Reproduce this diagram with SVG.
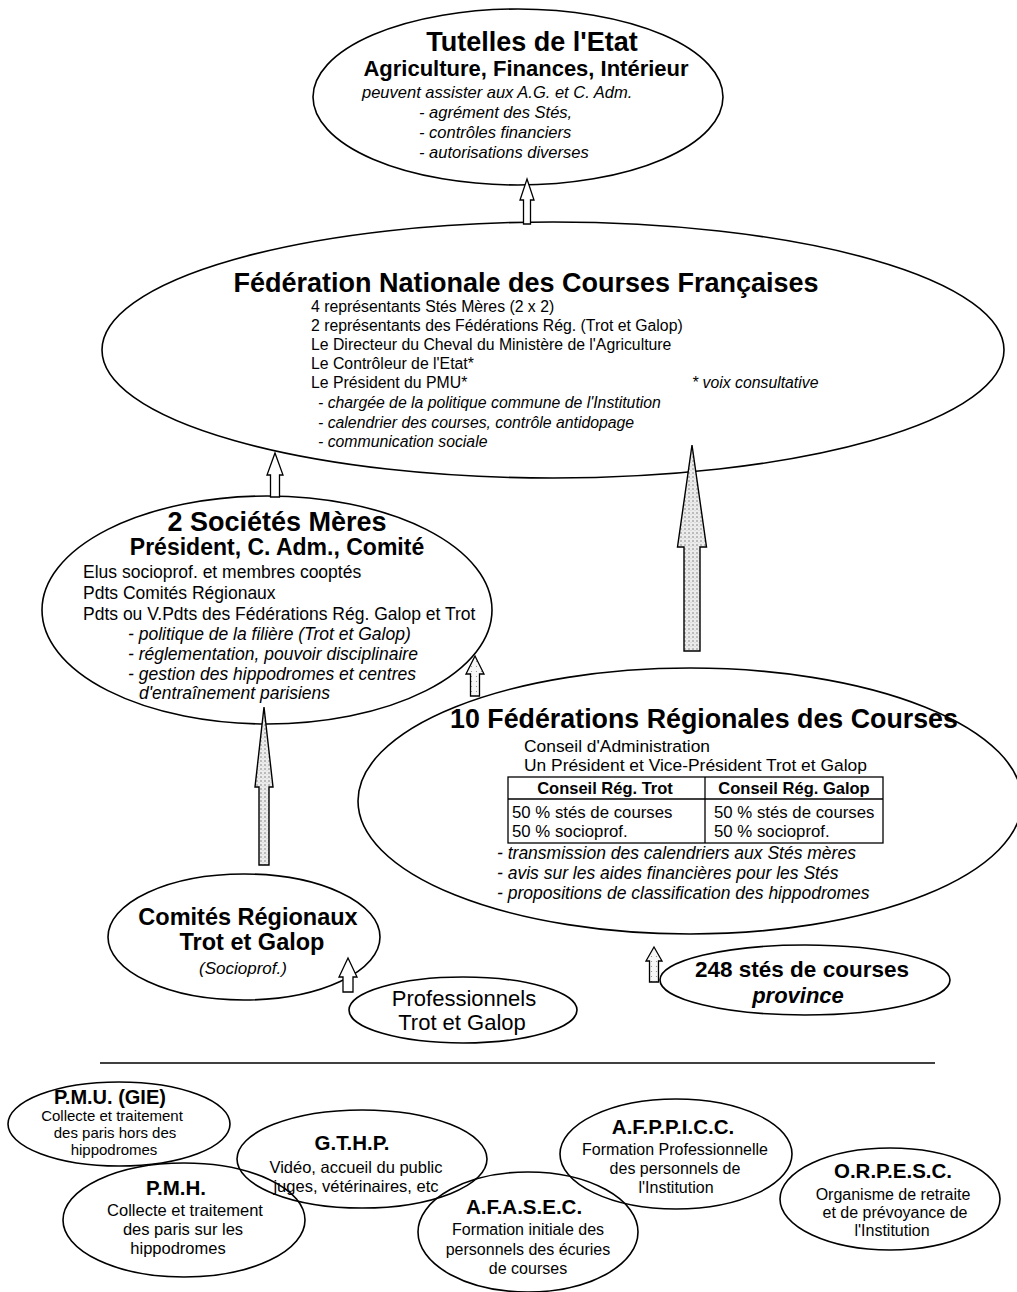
<svg xmlns="http://www.w3.org/2000/svg" width="1017" height="1292" viewBox="0 0 1017 1292">
<defs>
<style>
text{font-family:'Liberation Sans',Arial,sans-serif;fill:#000}
.b{font-weight:bold}
.i{font-style:italic}
.bi{font-weight:bold;font-style:italic}
.m{text-anchor:middle}
.e{fill:none;stroke:#000;stroke-width:1.6}
.ah{fill:#fff;stroke:#000;stroke-width:1.3;stroke-linejoin:miter}
.as{fill:url(#st);stroke:#000;stroke-width:1.4;stroke-linejoin:miter}
.al{fill:url(#st2);stroke:#000;stroke-width:1.3;stroke-linejoin:miter}
</style>
<pattern id="st" width="4" height="4" patternUnits="userSpaceOnUse">
<rect width="4" height="4" fill="#ececec"/>
<circle cx="1" cy="1" r="0.7" fill="#666"/>
<circle cx="3" cy="2.6" r="0.45" fill="#999"/>
</pattern>
<pattern id="st2" width="5" height="5" patternUnits="userSpaceOnUse">
<rect width="5" height="5" fill="#f6f6f6"/>
<circle cx="1.5" cy="1.5" r="0.6" fill="#888"/>
</pattern>
</defs>
<rect width="1017" height="1292" fill="#fff"/>

<g id="tutelles">
<ellipse class="e" cx="518" cy="97" rx="205" ry="88"/>
<text class="b m" x="532" y="51" font-size="27">Tutelles de l'Etat</text>
<text class="b m" x="526" y="76" font-size="22">Agriculture, Finances, Intérieur</text>
<text class="i" x="362" y="98" font-size="16.5">peuvent assister aux A.G. et C. Adm.</text>
<text class="i" x="419" y="118" font-size="16.5">- agrément des Stés,</text>
<text class="i" x="419" y="138" font-size="16.5">- contrôles financiers</text>
<text class="i" x="419" y="158" font-size="16.5">- autorisations diverses</text>
</g>

<g id="fncf">
<ellipse class="e" cx="553" cy="350" rx="451" ry="128"/>
<text class="b m" x="526" y="292" font-size="27">Fédération Nationale des Courses Françaises</text>
<text x="311" y="312" font-size="15.8">4 représentants Stés Mères (2 x 2)</text>
<text x="311" y="331" font-size="15.8">2 représentants des Fédérations Rég. (Trot et Galop)</text>
<text x="311" y="350" font-size="15.8">Le Directeur du Cheval du Ministère de l'Agriculture</text>
<text x="311" y="369" font-size="15.8">Le Contrôleur de l'Etat*</text>
<text x="311" y="388" font-size="15.8">Le Président du PMU*</text>
<text class="i" x="692" y="388" font-size="15.8">* voix consultative</text>
<text class="i" x="318" y="408" font-size="15.8">- chargée de la politique commune de l'Institution</text>
<text class="i" x="318" y="428" font-size="15.8">- calendrier des courses, contrôle antidopage</text>
<text class="i" x="318" y="447" font-size="15.8">- communication sociale</text>
</g>

<g id="societes-meres">
<ellipse class="e" cx="267" cy="610" rx="225" ry="114"/>
<text class="b m" x="277" y="531" font-size="27">2 Sociétés Mères</text>
<text class="b m" x="277" y="555" font-size="23">Président, C. Adm., Comité</text>
<text x="83" y="578" font-size="17.5">Elus socioprof. et membres cooptés</text>
<text x="83" y="599" font-size="17.5">Pdts Comités Régionaux</text>
<text x="83" y="620" font-size="17.5">Pdts ou V.Pdts des Fédérations Rég. Galop et Trot</text>
<text class="i" x="128" y="640" font-size="17.5">- politique de la filière (Trot et Galop)</text>
<text class="i" x="128" y="660" font-size="17.5">- réglementation, pouvoir disciplinaire</text>
<text class="i" x="128" y="680" font-size="17.5">- gestion des hippodromes et centres</text>
<text class="i" x="139" y="699" font-size="17.5">d'entraînement parisiens</text>
</g>

<g id="federations-regionales">
<ellipse class="e" cx="690" cy="801" rx="332" ry="133"/>
<text class="b m" x="704" y="728" font-size="26.8">10 Fédérations Régionales des Courses</text>
<text x="524" y="752" font-size="17.4">Conseil d'Administration</text>
<text x="524" y="771" font-size="17.4">Un Président et Vice-Président Trot et Galop</text>
<rect x="508" y="777" width="375" height="66" fill="none" stroke="#000" stroke-width="1.3"/>
<line x1="508" y1="799" x2="883" y2="799" stroke="#000" stroke-width="1.3"/>
<line x1="705" y1="777" x2="705" y2="843" stroke="#000" stroke-width="1.3"/>
<text class="b m" x="605" y="794" font-size="16.5">Conseil Rég. Trot</text>
<text class="b m" x="794" y="794" font-size="16.5">Conseil Rég. Galop</text>
<text x="512" y="818" font-size="16.8">50 % stés de courses</text>
<text x="512" y="837" font-size="16.8">50 % socioprof.</text>
<text x="714" y="818" font-size="16.8">50 % stés de courses</text>
<text x="714" y="837" font-size="16.8">50 % socioprof.</text>
<text class="i" x="497" y="859" font-size="17.5">- transmission des calendriers aux Stés mères</text>
<text class="i" x="497" y="879" font-size="17.5">- avis sur les aides financières pour les Stés</text>
<text class="i" x="497" y="899" font-size="17.5">- propositions de classification des hippodromes</text>
</g>

<g id="comites-regionaux">
<ellipse class="e" cx="244" cy="937" rx="136" ry="63"/>
<text class="b m" x="248" y="925" font-size="23.5">Comités Régionaux</text>
<text class="b m" x="252" y="950" font-size="23.5">Trot et Galop</text>
<text class="i m" x="243" y="974" font-size="17">(Socioprof.)</text>
</g>

<g id="professionnels">
<ellipse class="e" cx="463" cy="1010" rx="114" ry="33"/>
<text class="m" x="464" y="1006" font-size="22">Professionnels</text>
<text class="m" x="462" y="1030" font-size="22">Trot et Galop</text>
</g>

<g id="societes-province">
<ellipse class="e" cx="805" cy="980" rx="145" ry="35"/>
<text class="b m" x="802" y="977" font-size="22.5">248 stés de courses</text>
<text class="bi m" x="798" y="1003" font-size="22">province</text>
</g>

<line x1="100" y1="1063" x2="935" y2="1063" stroke="#000" stroke-width="1.3"/>

<g id="pmu">
<ellipse class="e" cx="119" cy="1124" rx="111" ry="42"/>
<text class="b m" x="110" y="1104" font-size="20">P.M.U. (GIE)</text>
<text class="m" x="112" y="1121" font-size="15">Collecte et traitement</text>
<text class="m" x="115" y="1138" font-size="15">des paris hors des</text>
<text class="m" x="114" y="1155" font-size="15">hippodromes</text>
</g>

<g id="pmh">
<ellipse class="e" cx="184" cy="1220" rx="121" ry="57"/>
<text class="b m" x="176" y="1195" font-size="20.5">P.M.H.</text>
<text class="m" x="185" y="1216" font-size="16.5">Collecte et traitement</text>
<text class="m" x="183" y="1235" font-size="16.5">des paris sur les</text>
<text class="m" x="178" y="1254" font-size="16.5">hippodromes</text>
</g>

<g id="gthp">
<ellipse class="e" cx="362" cy="1159" rx="125" ry="49"/>
<text class="b m" x="352" y="1150" font-size="20.5">G.T.H.P.</text>
<text class="m" x="356" y="1173" font-size="16.5">Vidéo, accueil du public</text>
<text class="m" x="356" y="1192" font-size="16.5">juges, vétérinaires, etc</text>
</g>

<g id="afasec">
<ellipse class="e" cx="528" cy="1232" rx="110" ry="60"/>
<text class="b m" x="524" y="1214" font-size="20.5">A.F.A.S.E.C.</text>
<text class="m" x="528" y="1235" font-size="16">Formation initiale des</text>
<text class="m" x="528" y="1255" font-size="16">personnels des écuries</text>
<text class="m" x="528" y="1274" font-size="16">de courses</text>
</g>

<g id="afppicc">
<ellipse class="e" cx="676" cy="1154" rx="116" ry="55"/>
<text class="b m" x="673" y="1134" font-size="20.5">A.F.P.P.I.C.C.</text>
<text class="m" x="675" y="1155" font-size="16">Formation Professionnelle</text>
<text class="m" x="675" y="1174" font-size="16">des personnels de</text>
<text class="m" x="676" y="1193" font-size="16">l'Institution</text>
</g>

<g id="orpesc">
<ellipse class="e" cx="890" cy="1199" rx="110" ry="51"/>
<text class="b m" x="893" y="1178" font-size="20.5">O.R.P.E.S.C.</text>
<text class="m" x="893" y="1200" font-size="16">Organisme de retraite</text>
<text class="m" x="895" y="1218" font-size="16">et de prévoyance de</text>
<text class="m" x="892" y="1236" font-size="16">l'Institution</text>
</g>

<g id="connectors">
<polygon class="ah" points="527,179 534,200 530.5,200 530.5,224 523.5,224 523.5,200 520,200"/>
<polygon class="ah" points="275,453 283,475 279.5,475 279.5,497 270.5,497 270.5,475 267,475"/>
<polygon class="al" points="475,656 484,674 479.5,674 479.5,696 470.5,696 470.5,674 466,674"/>
<polygon class="as" points="692,445 706.5,547 700,547 700,651 684,651 684,547 677.5,547"/>
<polygon class="as" points="264,707 273,787 269,787 269,865 259,865 259,787 255,787"/>
<polygon class="ah" points="348,958 357,977 353,977 353,992 343,992 343,977 339,977"/>
<polygon class="al" points="654,947 662,961 658.5,961 658.5,982 649.5,982 649.5,961 646,961"/>
</g>
</svg>
